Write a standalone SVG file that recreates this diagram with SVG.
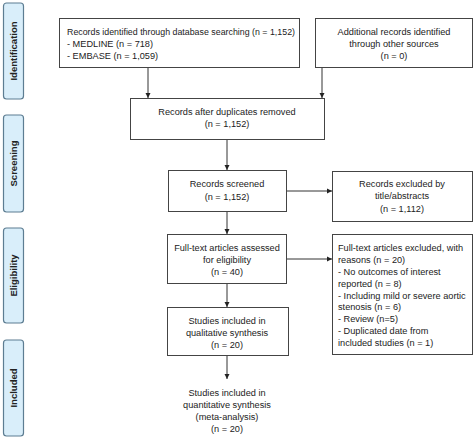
<svg xmlns="http://www.w3.org/2000/svg" width="474" height="437" viewBox="0 0 474 437">
<defs>
<marker id="ah" markerWidth="6" markerHeight="6" refX="5" refY="3" orient="auto" markerUnits="userSpaceOnUse">
<path d="M0,0.5 L5,3 L0,5.5 Z" fill="#222"/>
</marker>
<style>
.box{fill:#fff;stroke:#444;stroke-width:1}
.tab{fill:#d9eefa;stroke:#5d7d92;stroke-width:1.2}
.t{font-family:"Liberation Sans",Arial,sans-serif;font-size:9.2px;fill:#222}
.c{text-anchor:middle}
.lab{font-family:"Liberation Sans",Arial,sans-serif;font-size:9.5px;font-weight:bold;fill:#222;text-anchor:middle}
.ln{stroke:#333;stroke-width:1;fill:none;marker-end:url(#ah)}
</style>
</defs>
<rect width="474" height="437" fill="#fff"/>
<g id="tabs">
<g id="tab-identification"><rect class="tab" x="3.5" y="3" width="20" height="96" rx="3"/><text class="lab" transform="translate(16.5,51) rotate(-90)">Identification</text></g>
<g id="tab-screening"><rect class="tab" x="3.5" y="115" width="20" height="97" rx="3"/><text class="lab" transform="translate(16.5,163.5) rotate(-90)">Screening</text></g>
<g id="tab-eligibility"><rect class="tab" x="3.5" y="228" width="20" height="95" rx="3"/><text class="lab" transform="translate(16.5,275.5) rotate(-90)">Eligibility</text></g>
<g id="tab-included"><rect class="tab" x="3.5" y="340" width="20" height="96" rx="3"/><text class="lab" transform="translate(16.5,388) rotate(-90)">Included</text></g>
</g>
<g id="connectors">
<line class="ln" x1="148" y1="67" x2="148" y2="98"/>
<line class="ln" x1="322" y1="67" x2="322" y2="98"/>
<line class="ln" x1="227" y1="140" x2="227" y2="170"/>
<line class="ln" x1="286" y1="191" x2="332" y2="191"/>
<line class="ln" x1="227" y1="211" x2="227" y2="234"/>
<line class="ln" x1="287" y1="259" x2="332" y2="259"/>
<line class="ln" x1="227" y1="283" x2="227" y2="307"/>
<line class="ln" x1="227" y1="355" x2="227" y2="379"/>
</g>
<g id="n1"><rect class="box" x="59.5" y="18.5" width="240" height="49"/>
<text class="t" x="67" y="35" textLength="228" lengthAdjust="spacingAndGlyphs">Records identified through database searching (n = 1,152)</text>
<text class="t" x="67" y="47">- MEDLINE (n = 718)</text>
<text class="t" x="67" y="59">- EMBASE (n = 1,059)</text></g>
<g id="n2"><rect class="box" x="315.5" y="18.5" width="157" height="49"/>
<text class="t c" x="394" y="35">Additional records identified</text>
<text class="t c" x="394" y="47">through other sources</text>
<text class="t c" x="394" y="59">(n = 0)</text></g>
<g id="n3"><rect class="box" x="130.5" y="98.5" width="194" height="41"/>
<text class="t c" x="227" y="115">Records after duplicates removed</text>
<text class="t c" x="227" y="127">(n = 1,152)</text></g>
<g id="n4"><rect class="box" x="168.5" y="170.5" width="118" height="41"/>
<text class="t c" x="227" y="187">Records screened</text>
<text class="t c" x="227" y="200">(n = 1,152)</text></g>
<g id="n5"><rect class="box" x="332.5" y="171.5" width="140" height="50"/>
<text class="t c" x="402" y="187">Records excluded by</text>
<text class="t c" x="402" y="199">title/abstracts</text>
<text class="t c" x="402" y="212">(n = 1,112)</text></g>
<g id="n6"><rect class="box" x="167.5" y="234.5" width="119" height="49"/>
<text class="t c" x="227" y="251">Full-text articles assessed</text>
<text class="t c" x="227" y="263">for eligibility</text>
<text class="t c" x="227" y="275">(n = 40)</text></g>
<g id="n7"><rect class="box" x="332.5" y="234.5" width="140" height="120"/>
<text class="t" x="338" y="251">Full-text articles excluded, with</text>
<text class="t" x="338" y="263">reasons (n = 20)</text>
<text class="t" x="338" y="275">- No outcomes of interest</text>
<text class="t" x="338" y="286.5">reported (n = 8)</text>
<text class="t" x="338" y="298.5">- Including mild or severe aortic</text>
<text class="t" x="338" y="310">stenosis (n = 6)</text>
<text class="t" x="338" y="322">- Review (n=5)</text>
<text class="t" x="338" y="334">- Duplicated date from</text>
<text class="t" x="338" y="345.5">included studies (n = 1)</text></g>
<g id="n8"><rect class="box" x="167.5" y="307.5" width="121" height="48"/>
<text class="t c" x="227" y="324">Studies included in</text>
<text class="t c" x="227" y="336">qualitative synthesis</text>
<text class="t c" x="227" y="348">(n = 20)</text></g>
<g id="n9">
<text class="t c" x="227" y="396">Studies included in</text>
<text class="t c" x="227" y="408">quantitative synthesis</text>
<text class="t c" x="227" y="420">(meta-analysis)</text>
<text class="t c" x="227" y="432">(n = 20)</text></g>
</svg>
